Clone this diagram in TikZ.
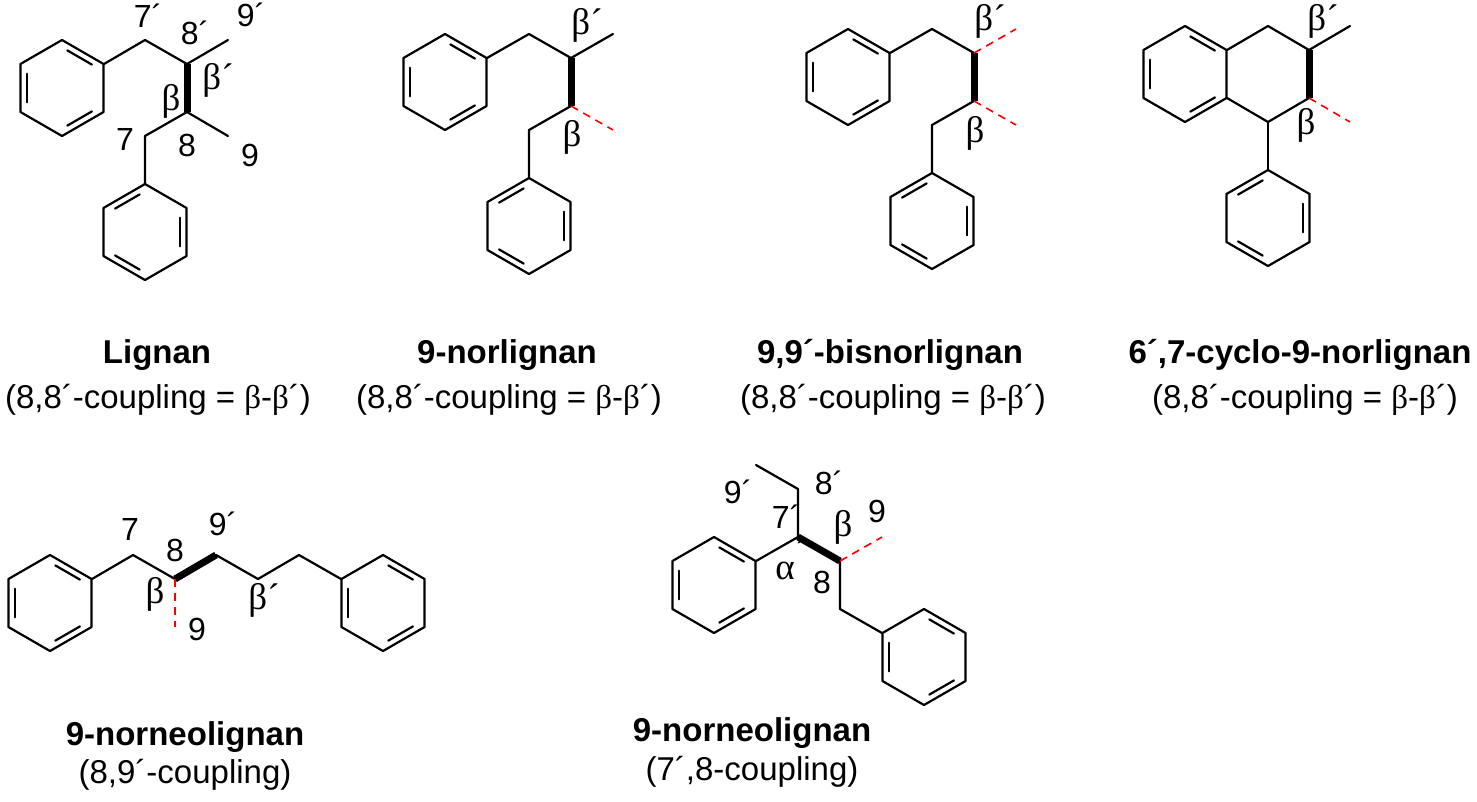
\documentclass[tikz,border=0pt]{standalone}
\usepackage{fontspec}
\setmainfont{Liberation Sans}
\newfontfamily\grk{Liberation Serif}
\usetikzlibrary{calc}
\tikzset{bond/.style={line width=2.2pt,line join=round,line cap=round},
 wedge/.style={line width=7pt},
 rdash/.style={red,line width=1.6pt,dash pattern=on 8pt off 6pt},
 lbl/.style={font=\fontsize{32}{34}\selectfont,inner sep=0pt},
 glbl/.style={font=\fontsize{37}{38}\selectfont\grk,inner sep=0pt},
 ttl/.style={font=\fontsize{33}{36}\selectfont\bfseries,inner sep=0pt},
 sub/.style={font=\fontsize{33}{36}\selectfont,inner sep=0pt},
 benzA/.pic={\draw[bond] (30:48)--(90:48)--(150:48)--(210:48)--(270:48)--(330:48)--cycle;
   \foreach \a in {150,270,30} \draw[bond] (\a+8:38)--(\a+52:38);},
 benzB/.pic={\draw[bond] (30:48)--(90:48)--(150:48)--(210:48)--(270:48)--(330:48)--cycle;
   \foreach \a in {210,330,90} \draw[bond] (\a+8:38)--(\a+52:38);}}
\newcommand\gb{{\grk β}}
\begin{document}
\begin{tikzpicture}[x=1pt,y=-1pt]
\useasboundingbox (0,0) rectangle (1477,801);
% ---- Lignan
\pic (ra1) at (62,88) {benzA};
\pic (ra2) at (145,232) {benzB};
\coordinate (a1) at (104,64); \coordinate (a7p) at (145,40); \coordinate (a8p) at (187,64);
\coordinate (a9p) at (228,40); \coordinate (a8) at (187,112); \coordinate (a9) at (228,136);
\coordinate (a7) at (145,136); \coordinate (a2) at (145,184);
\draw[bond] (a1)--(a7p)--(a8p)--(a9p); \draw[bond] (a8)--(a9); \draw[bond] (a8)--(a7)--(a2);
\draw[wedge] (a8p)--(a8);
\node[lbl] (la7p) at (148,16) {7´}; \node[lbl] (la8p) at (195,33) {8´};
\node[lbl] (la9p) at (251,15) {9´}; \node[glbl] (lab1) at (218,80) {β´};
\node[glbl] (lab2) at (171,101) {β}; \node[lbl] (la7) at (125,139) {7};
\node[lbl] (la8) at (187,145) {8}; \node[lbl] (la9) at (250,155) {9};
\node[ttl] (t1) at (157,355) {Lignan};
\node[sub] (s1) at (158,400) {(8,8´-coupling = \gb-\gb´)};
% ---- 9-norlignan
\pic (rb1) at (445,82) {benzA};
\pic (rb2) at (529,226) {benzB};
\coordinate (b1) at (487,58); \coordinate (b2) at (529,34); \coordinate (b3) at (571,58);
\coordinate (b4) at (613,34); \coordinate (b5) at (571,106); \coordinate (b6) at (613,130);
\coordinate (b7) at (529,130); \coordinate (b8) at (529,178);
\draw[bond] (b1)--(b2)--(b3)--(b4); \draw[bond] (b5)--(b7)--(b8);
\draw[wedge] (b3)--(b5); \draw[rdash] (b5)--(b6);
\node[glbl] (lb1) at (587,25) {β´}; \node[glbl] (lb2) at (572,137) {β};
\node[ttl] (t2) at (507,355) {9-norlignan};
\node[sub] (s2) at (509,400) {(8,8´-coupling = \gb-\gb´)};
% ---- 9,9'-bisnorlignan
\pic (rc1) at (848,77) {benzA};
\pic (rc2) at (932,221) {benzB};
\coordinate (c1) at (890,53); \coordinate (c2) at (932,29); \coordinate (c3) at (974,53);
\coordinate (c4) at (1016,29); \coordinate (c5) at (974,101); \coordinate (c6) at (1016,125);
\coordinate (c7) at (932,125); \coordinate (c8) at (932,173);
\draw[bond] (c1)--(c2)--(c3); \draw[bond] (c5)--(c7)--(c8);
\draw[wedge] (c3)--(c5); \draw[rdash] (c3)--(c4); \draw[rdash] (c5)--(c6);
\node[glbl] (lc1) at (990,21) {β´}; \node[glbl] (lc2) at (975,133) {β};
\node[ttl] (t3) at (890,355) {9,9´-bisnorlignan};
\node[sub] (s3) at (893,400) {(8,8´-coupling = \gb-\gb´)};
% ---- 6',7-cyclo-9-norlignan
\pic (rd1) at (1185,74) {benzA};
\pic (rd2) at (1268,218) {benzB};
\coordinate (d1) at (1227,50); \coordinate (d2) at (1268,26); \coordinate (d3) at (1309,50);
\coordinate (d4) at (1350,26); \coordinate (d5) at (1309,98); \coordinate (d6) at (1350,122);
\coordinate (d7) at (1268,122); \coordinate (d8) at (1227,98); \coordinate (d9) at (1268,170);
\draw[bond] (d1)--(d2)--(d3)--(d4); \draw[bond] (d5)--(d7)--(d8); \draw[bond] (d7)--(d9);
\draw[wedge] (d3)--(d5); \draw[rdash] (d5)--(d6);
\node[glbl] (ld1) at (1323,21) {β´}; \node[glbl] (ld2) at (1306,125) {β};
\node[ttl] (t4) at (1300,355) {6´,7-cyclo-9-norlignan};
\node[sub] (s4) at (1305,400) {(8,8´-coupling = \gb-\gb´)};
% ---- 9-norneolignan (8,9')
\pic (re1) at (50,603) {benzA};
\pic (re2) at (383,603) {benzA};
\coordinate (e1) at (92,579); \coordinate (e2) at (133,555); \coordinate (e3) at (175,579);
\coordinate (e4) at (216,555); \coordinate (e5) at (258,579); \coordinate (e6) at (299,555);
\coordinate (e7) at (341,579); \coordinate (e8) at (175,627);
\draw[bond] (e1)--(e2)--(e3); \draw[bond] (e4)--(e5)--(e6)--(e7);
\draw[wedge] (e3)--(e4); \draw[rdash] (e3)--(e8);
\node[lbl] (le7) at (130,529) {7}; \node[lbl] (le8) at (175,550) {8};
\node[lbl] (le9p) at (223,524) {9´}; \node[glbl] (leb) at (155,594) {β};
\node[glbl] (lebp) at (264,600) {β´}; \node[lbl] (le9) at (197,629) {9};
\node[ttl] (t5) at (185,737) {9-norneolignan};
\node[sub] (s5) at (185,775) {(8,9´-coupling)};
% ---- 9-norneolignan (7',8)
\pic (rf1) at (714,585) {benzA};
\pic (rf2) at (924,657) {benzA};
\coordinate (f1) at (756,561); \coordinate (f2) at (798,537); \coordinate (f3) at (840,561);
\coordinate (f4) at (882,537); \coordinate (f5) at (798,489); \coordinate (f6) at (756,465);
\coordinate (f7) at (840,609); \coordinate (f8) at (882,633);
\draw[bond] (f1)--(f2); \draw[bond] (f2)--(f5)--(f6); \draw[bond] (f3)--(f7)--(f8);
\draw[wedge] (f2)--(f3); \draw[rdash] (f3)--(f4);
\node[lbl] (lf9p) at (738,492) {9´}; \node[lbl] (lf8p) at (829,483) {8´};
\node[lbl] (lf7p) at (786,517) {7´}; \node[glbl] (lfb) at (843,527) {β};
\node[lbl] (lf9) at (877,511) {9}; \node[glbl] (lfa) at (785,571) {α};
\node[lbl] (lfap) at (802,551) {´}; \node[lbl] (lf8) at (822,582) {8};
\node[ttl] (t6) at (752,733) {9-norneolignan};
\node[sub] (s6) at (752,772) {(7´,8-coupling)};
\end{tikzpicture}
\end{document}
